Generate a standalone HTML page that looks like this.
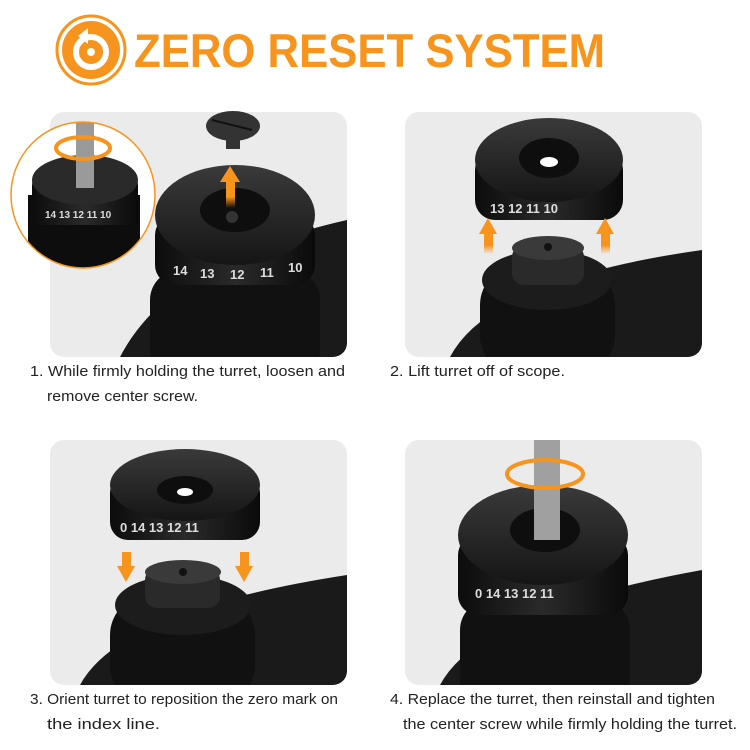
<!DOCTYPE html>
<html><head><meta charset="utf-8"><style>
body{margin:0;background:#fff;width:750px;height:750px;overflow:hidden}
svg{display:block}
text{font-family:"Liberation Sans",sans-serif}
.cap{font-size:15px;fill:#222}
.num{font-size:13px;fill:#ddd;font-weight:bold}
</style></head><body>
<svg width="750" height="750" viewBox="0 0 750 750">
<defs>
<linearGradient id="body" x1="0" x2="1"><stop offset="0" stop-color="#0c0c0c"/><stop offset=".5" stop-color="#2a2a2a"/><stop offset="1" stop-color="#0a0a0a"/></linearGradient>
<linearGradient id="top" x1="0" y1="0" x2="0" y2="1"><stop offset="0" stop-color="#3a3a3a"/><stop offset="1" stop-color="#151515"/></linearGradient>
<linearGradient id="arr" x1="0" y1="1" x2="0" y2="0"><stop offset="0" stop-color="#f7941d" stop-opacity="0"/><stop offset=".4" stop-color="#f7941d"/></linearGradient>
<clipPath id="c1"><rect x="50" y="112" width="297" height="245" rx="14"/></clipPath>
<clipPath id="c2"><rect x="405" y="112" width="297" height="245" rx="14"/></clipPath>
<clipPath id="c3"><rect x="50" y="440" width="297" height="245" rx="14"/></clipPath>
<clipPath id="c4"><rect x="405" y="440" width="297" height="245" rx="14"/></clipPath>
<clipPath id="ci"><ellipse cx="83" cy="195" rx="72" ry="73"/></clipPath>
</defs>

<!-- header -->
<circle cx="91" cy="50" r="34" fill="none" stroke="#f7941d" stroke-width="3"/>
<circle cx="91" cy="50" r="29" fill="#f7941d"/>
<circle cx="91" cy="52" r="15" fill="none" stroke="#fff" stroke-width="6"/>
<circle cx="91" cy="52" r="4" fill="#fff"/>
<path d="M78 36 L88 28 L88 44 Z" fill="#fff"/>
<text x="134" y="67" font-size="47" font-weight="bold" fill="#f7941d" textLength="471" lengthAdjust="spacingAndGlyphs">ZERO RESET SYSTEM</text>

<!-- panel 1 -->
<rect x="50" y="112" width="297" height="245" rx="14" fill="#ebebeb"/>
<g clip-path="url(#c1)">
<path d="M120 357 Q170 260 347 220 L347 357 Z" fill="#1a1a1a"/>
<rect x="150" y="270" width="170" height="110" rx="30" fill="#111"/>
<rect x="155" y="215" width="160" height="70" rx="20" fill="url(#body)"/>
<ellipse cx="235" cy="215" rx="80" ry="50" fill="url(#top)"/>
<ellipse cx="235" cy="210" rx="35" ry="22" fill="#0e0e0e"/>
<circle cx="232" cy="217" r="6" fill="#333"/>
<text x="173" y="275" class="num">14</text><text x="200" y="278" class="num">13</text><text x="230" y="279" class="num">12</text><text x="260" y="277" class="num">11</text><text x="288" y="272" class="num">10</text>
</g>
<rect x="226" y="180" width="9" height="28" fill="url(#arr)"/><path d="M220 182 L230 166 L240 182 Z" fill="#f7941d"/>
<ellipse cx="233" cy="126" rx="27" ry="15" fill="#333"/><rect x="226" y="133" width="14" height="16" fill="#333"/><line x1="212" y1="120" x2="252" y2="130" stroke="#111" stroke-width="2"/>

<!-- inset -->
<g clip-path="url(#ci)">
<rect x="0" y="120" width="160" height="150" fill="#fff"/>
<rect x="28" y="195" width="112" height="80" fill="#0d0d0d"/>
<ellipse cx="85" cy="185" rx="53" ry="30" fill="url(#top)"/>
<rect x="32" y="185" width="106" height="40" fill="url(#body)"/>
<ellipse cx="85" cy="180" rx="53" ry="25" fill="#2a2a2a"/>
<rect x="76" y="118" width="18" height="70" fill="#9a9a9a"/>
<text x="45" y="218" font-size="10" fill="#ddd" font-weight="bold">14  13  12  11  10</text>
</g>
<ellipse cx="83" cy="195" rx="72" ry="73" fill="none" stroke="#f7941d" stroke-width="1.5"/>
<ellipse cx="83" cy="148" rx="27" ry="11" fill="none" stroke="#f7941d" stroke-width="4"/>

<text x="30" y="376" class="cap" textLength="315" lengthAdjust="spacingAndGlyphs">1. While firmly holding the turret, loosen and</text>
<text x="47" y="401" class="cap" textLength="151" lengthAdjust="spacingAndGlyphs">remove center screw.</text>

<!-- panel 2 -->
<rect x="405" y="112" width="297" height="245" rx="14" fill="#ebebeb"/>
<g clip-path="url(#c2)">
<path d="M450 357 Q490 280 702 250 L702 357 Z" fill="#1a1a1a"/>
<rect x="480" y="265" width="135" height="110" rx="40" fill="#111"/>
<ellipse cx="547" cy="280" rx="65" ry="30" fill="#1c1c1c"/>
<rect x="512" y="245" width="72" height="40" rx="12" fill="#2a2a2a"/>
<ellipse cx="548" cy="248" rx="36" ry="12" fill="#3a3a3a"/>
<circle cx="548" cy="247" r="4" fill="#111"/>
</g>
<rect x="475" y="150" width="148" height="70" rx="20" fill="url(#body)"/>
<ellipse cx="549" cy="160" rx="74" ry="42" fill="url(#top)"/>
<ellipse cx="549" cy="158" rx="30" ry="20" fill="#0e0e0e"/>
<ellipse cx="549" cy="162" rx="9" ry="5" fill="#fff"/>
<text x="490" y="213" class="num">13   12   11   10</text>
<rect x="484" y="232" width="9" height="22" fill="url(#arr)"/><path d="M479 234 L488 218 L497 234 Z" fill="#f7941d"/>
<rect x="601" y="232" width="9" height="22" fill="url(#arr)"/><path d="M596 234 L605 218 L614 234 Z" fill="#f7941d"/>
<text x="390" y="376" class="cap" textLength="175" lengthAdjust="spacingAndGlyphs">2. Lift turret off of scope.</text>

<!-- panel 3 -->
<rect x="50" y="440" width="297" height="245" rx="14" fill="#ebebeb"/>
<g clip-path="url(#c3)">
<path d="M80 685 Q120 610 347 575 L347 685 Z" fill="#1a1a1a"/>
<rect x="110" y="595" width="145" height="110" rx="40" fill="#111"/>
<ellipse cx="183" cy="605" rx="68" ry="30" fill="#1c1c1c"/>
<rect x="145" y="568" width="75" height="40" rx="12" fill="#2a2a2a"/>
<ellipse cx="183" cy="572" rx="38" ry="12" fill="#3a3a3a"/>
<circle cx="183" cy="572" r="4" fill="#111"/>
</g>
<rect x="110" y="475" width="150" height="65" rx="18" fill="url(#body)"/>
<ellipse cx="185" cy="485" rx="75" ry="36" fill="url(#top)"/>
<ellipse cx="185" cy="490" rx="28" ry="14" fill="#0e0e0e"/>
<ellipse cx="185" cy="492" rx="8" ry="4" fill="#fff"/>
<text x="120" y="532" class="num">0   14   13   12   11</text>
<rect x="122" y="552" width="9" height="18" fill="#f7941d"/><path d="M117 566 L126 582 L135 566 Z" fill="#f7941d"/>
<rect x="240" y="552" width="9" height="18" fill="#f7941d"/><path d="M235 566 L244 582 L253 566 Z" fill="#f7941d"/>
<text x="30" y="704" class="cap" textLength="308" lengthAdjust="spacingAndGlyphs">3. Orient turret to reposition the zero mark on</text>
<text x="47" y="729" class="cap" textLength="113" lengthAdjust="spacingAndGlyphs">the index line.</text>

<!-- panel 4 -->
<rect x="405" y="440" width="297" height="245" rx="14" fill="#ebebeb"/>
<g clip-path="url(#c4)">
<path d="M440 685 Q480 610 702 570 L702 685 Z" fill="#1a1a1a"/>
<rect x="460" y="600" width="170" height="110" rx="30" fill="#111"/>
<rect x="458" y="535" width="170" height="80" rx="20" fill="url(#body)"/>
<ellipse cx="543" cy="535" rx="85" ry="50" fill="url(#top)"/>
<ellipse cx="545" cy="530" rx="35" ry="22" fill="#0e0e0e"/>
<text x="475" y="598" class="num">0   14   13   12   11</text>
<rect x="534" y="440" width="26" height="100" fill="#a0a0a0"/>
</g>
<ellipse cx="545" cy="474" rx="38" ry="14" fill="none" stroke="#f7941d" stroke-width="4"/>
<text x="390" y="704" class="cap" textLength="325" lengthAdjust="spacingAndGlyphs">4. Replace the turret, then reinstall and tighten</text>
<text x="403" y="729" class="cap" textLength="334" lengthAdjust="spacingAndGlyphs">the center screw while firmly holding the turret.</text>
</svg>
</body></html>
